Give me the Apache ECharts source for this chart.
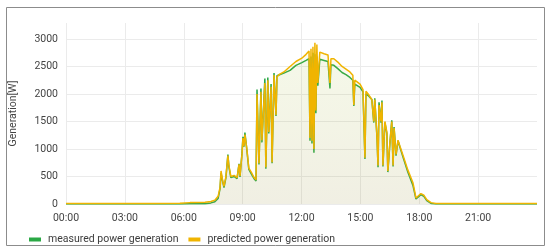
<!DOCTYPE html>
<html>
<head>
<meta charset="utf-8">
<script src="https://cdn.jsdelivr.net/npm/echarts@6/dist/echarts.min.js"></script>
<style>
html,body{margin:0;padding:0;background:#fff;}
#chart{width:550px;height:251px;}
</style>
</head>
<body>
<div id="chart"></div>
<script>
// ---- data ----
const seriesNames = ['measured power generation', 'predicted power generation'];
const xTickHours = [0, 3, 6, 9, 12, 15, 18, 21, 24];
const yTickValues = [0, 500, 1000, 1500, 2000, 2500, 3000];

const times = [
  '00:00','04:17','05:48','06:19','07:05','07:23','07:35','07:45','07:51','07:54',
  '08:00','08:03','08:09','08:15','08:18','08:24','08:34','08:43','08:49','08:52',
  '08:58','09:01','09:04','09:07','09:13','09:19','09:29','09:35','09:41','09:44',
  '09:50','09:56','09:59','10:08','10:11','10:17','10:20','10:27','10:30','10:36',
  '10:42','10:45','10:51','11:06','11:25','11:43','12:01','12:14','12:23','12:26',
  '12:29','12:32','12:35','12:38','12:41','12:44','12:47','12:50','12:56','13:09',
  '13:21','13:27','13:30','13:39','13:51','14:04','14:16','14:28','14:37','14:40',
  '14:43','14:49','14:59','15:08','15:14','15:17','15:26','15:35','15:41','15:44',
  '15:51','15:54','15:57','16:03','16:06','16:09','16:15','16:21','16:24','16:30',
  '16:36','16:40','16:43','16:49','16:55','17:01','17:10','17:25','17:41','17:50',
  '17:56','18:05','18:14','18:23','18:36','18:51','24:00'
];

const measured = [
  0,0,0,5,5,20,40,100,280,560,
  380,300,480,900,680,480,500,460,730,490,
  920,1220,1040,1300,980,630,520,460,420,2080,
  720,2100,1120,2280,640,2300,1280,2180,740,2380,
  1600,2330,2340,2380,2430,2520,2570,2610,2640,1150,
  2680,1100,2750,930,2720,1650,2680,2150,2630,2610,
  2590,2100,2530,2520,2460,2390,2350,2300,2250,1780,
  2180,2150,2120,2040,820,2000,1960,1900,1480,1920,
  1180,670,1850,1480,1880,680,1480,1280,580,1080,
  1520,680,1400,880,1150,1030,860,580,330,90,
  110,170,140,60,10,0,0
];

const predicted = [
  8,8,15,25,30,45,70,140,300,600,
  390,320,500,880,700,500,520,480,720,510,
  900,1200,1050,1260,1000,650,550,480,440,2000,
  740,2040,1160,2200,670,2250,1310,2130,760,2345,
  1620,2310,2350,2400,2500,2590,2650,2720,2780,1200,
  2820,1150,2860,1000,2930,1700,2900,2200,2760,2730,
  2710,2200,2640,2640,2580,2500,2450,2400,2340,1800,
  2250,2220,2180,2080,840,2050,1980,1900,1500,1900,
  1200,700,1800,1500,1850,700,1500,1300,600,1100,
  1500,700,1380,900,1160,1050,890,620,380,110,
  120,190,160,80,25,10,10
];

// ---- build ----
function toHours(t){ const p = t.split(':'); return (+p[0]) + (+p[1]) / 60; }
function pairs(vals){ return times.map((t, i) => [toHours(t), vals[i]]); }

const GREEN = '#2aa845';
const YELLOW = '#f0b400';
const gridColor = '#ebebeb';
const font = 'Roboto, "Noto Sans", sans-serif';

const chart = echarts.init(document.getElementById('chart'), null, {renderer: 'canvas'});
chart.setOption({
  animation: false,
  backgroundColor: '#ffffff',
  graphic: [{
    type: 'rect',
    shape: {x: 6.5, y: 7.5, width: 538, height: 238},
    style: {fill: 'none', stroke: '#8c8c8c', lineWidth: 1},
    silent: true, z: 100
  }],
  grid: {left: 66, right: 13, top: 23, bottom: 47},
  legend: {
    left: 24, top: 229,
    itemWidth: 12, itemHeight: 4, itemGap: 10,
    icon: 'rect',
    textStyle: {fontFamily: font, fontSize: 10.5, color: '#3c3c3c', padding: [0,0,0,2]},
    data: seriesNames
  },
  xAxis: {
    type: 'value',
    min: xTickHours[0], max: xTickHours[xTickHours.length - 1], interval: 3,
    axisLine: {show: false}, axisTick: {show: false},
    axisLabel: {
      fontFamily: font, fontSize: 10.5, color: '#444', margin: 9,
      showMaxLabel: false,
      formatter: v => (v < 10 ? '0' : '') + v + ':00'
    },
    splitLine: {show: true, lineStyle: {width: 1,
      color: xTickHours.map((h, i) => i === xTickHours.length - 1 ? 'rgba(0,0,0,0)' : gridColor)}}
  },
  yAxis: {
    type: 'value',
    min: 0, max: 3290, interval: 500,
    name: 'Generation[W]', nameLocation: 'middle', nameGap: 47, nameRotate: 90,
    nameTextStyle: {fontFamily: font, fontSize: 10.5, color: '#444'},
    axisLine: {show: false}, axisTick: {show: false},
    axisLabel: {fontFamily: font, fontSize: 10.5, color: '#444', margin: 8, showMaxLabel: false,
      formatter: v => String(v)},
    splitLine: {show: true, lineStyle: {width: 1,
      color: yTickValues.map(() => gridColor).concat(['rgba(0,0,0,0)'])}}
  },
  series: [
    {
      name: seriesNames[0], type: 'line', data: pairs(measured),
      showSymbol: false, symbol: 'none', sampling: null,
      lineStyle: {color: GREEN, width: 1.5},
      itemStyle: {color: GREEN},
      areaStyle: {color: GREEN, opacity: 0.04},
      z: 2
    },
    {
      name: seriesNames[1], type: 'line', data: pairs(predicted),
      showSymbol: false, symbol: 'none', sampling: null,
      lineStyle: {color: YELLOW, width: 1.5},
      itemStyle: {color: YELLOW},
      areaStyle: {
        color: new echarts.graphic.LinearGradient(0, 0, 0, 1, [
          {offset: 0, color: 'rgba(225,205,60,0.08)'},
          {offset: 1, color: 'rgba(195,150,85,0.13)'}
        ]),
        opacity: 1
      },
      z: 3
    }
  ]
});
</script>
</body>
</html>
